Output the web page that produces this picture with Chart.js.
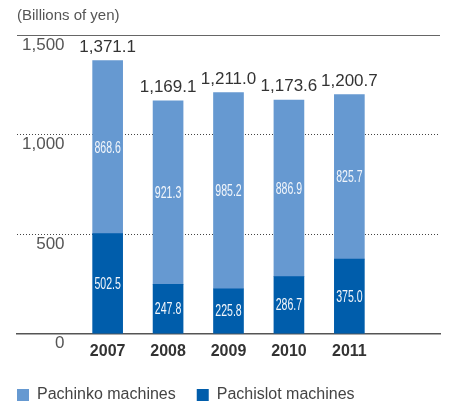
<!DOCTYPE html>
<html>
<head>
<meta charset="utf-8">
<script src="https://cdn.jsdelivr.net/npm/chart.js@4"></script>
<style>
html,body{margin:0;padding:0;background:#fff}
#wrap{width:450px;height:401px}
</style>
</head>
<body>
<div id="wrap"><canvas id="chart"></canvas></div>
<script>

const years = ['2007','2008','2009','2010','2011'];
const pachinko = [868.6, 921.3, 985.2, 886.9, 825.7];
const pachislot = [502.5, 247.8, 225.8, 286.7, 375.0];
const totals = [1371.1, 1169.1, 1211.0, 1173.6, 1200.7];
const yTicks = [0, 500, 1000, 1500];
const unitLabel = '(Billions of yen)';

// one empty slot each side so the grid runs wide like the original
const pad = arr => [null, ...arr, null];
const xLabels = ['', ...years, ''];
const totalsPadded = pad(totals);

const FONT = '"Liberation Sans", Arial, sans-serif';

const labelPlugin = {
id:'barLabels',
afterDraw(chart)
{
const ctx = chart.ctx;
const a = chart.chartArea;
ctx.save();

// unit label
ctx.fillStyle = '#555';
ctx.font = '15px ' + FONT;
ctx.textAlign = 'left';
ctx.textBaseline = 'middle';
ctx.fillText(unitLabel, a.left, 16);

// values inside the segments
chart.data.datasets.forEach((ds,di)=>{
chart.getDatasetMeta(di).data.forEach((bar,i)=>{
const v = ds.data[i];
if(v==null) return;
ctx.save();
ctx.translate(bar.x, (bar.y+bar.base)/2 + 1);
ctx.scale(0.66,1);
ctx.fillStyle = '#f2f6fb';
ctx.font = '16px ' + FONT;
ctx.textAlign = 'center';
ctx.fillText(v.toFixed(1), 0, 0);
ctx.restore();
});
});

// totals above bars
ctx.fillStyle = '#333';
ctx.font = '17px ' + FONT;
ctx.textAlign = 'center';
ctx.textBaseline = 'bottom';
chart.getDatasetMeta(1).data.forEach((bar,i)=>{
const t = totalsPadded[i];
if(t==null) return;
ctx.fillText(t.toLocaleString('en-US',{minimumFractionDigits:1}), bar.x, bar.y-5);
});

ctx.restore();
}
};

const ctx = document.getElementById('chart').getContext('2d');

const chart = new Chart(ctx,{
type:'bar',
data:{
labels:xLabels,
datasets:[
{
label:'Pachislot machines',
data:pad(pachislot),
backgroundColor:'#005dab',
borderWidth:0,
barThickness:30
},
{
label:'Pachinko machines',
data:pad(pachinko),
backgroundColor:'#6699d1',
borderWidth:0,
barThickness:30
}
]
},
options:{
animation:false,
responsive:true,
maintainAspectRatio:false,
layout:{padding:{left:-4,right:10,top:35,bottom:-12}},
plugins:{
tooltip:{enabled:false},
legend:{
position:'bottom',
align:'start',
reverse:true,
labels:{
boxWidth:12,
boxHeight:12,
padding:21,
color:'#444',
font:{family:FONT,size:16}
}
}
},
scales:{
x:{
stacked:true,
grid:{display:false},
border:{display:true,color:'#555',width:1.5},
ticks:{color:'#333',padding:0,font:{family:FONT,size:16,weight:'bold'}},
afterFit:s=>{ s.height += 5; }
},
y:{
stacked:true,
min:0,
max:1500,
afterBuildTicks:s=>{ s.ticks = yTicks.map(v=>({value:v})); },
afterFit:s=>{ s.width = 21; },
grid:{
drawTicks:false,
color:c=>c.tick.value===0 ? 'rgba(0,0,0,0)' : (c.tick.value===1500 ? '#666' : '#444'),
lineWidth:1
},
border:{display:false,dash:c=>(c.tick && (c.tick.value===500||c.tick.value===1000)) ? [1,2] : []},
ticks:{
mirror:true,
crossAlign:'far',
labelOffset:10,
padding:5,
color:'#555',
font:{family:FONT,size:17},
callback:v=>v.toLocaleString('en-US')
}
}
}
},
plugins:[labelPlugin]
});

</script>
</body>
</html>
